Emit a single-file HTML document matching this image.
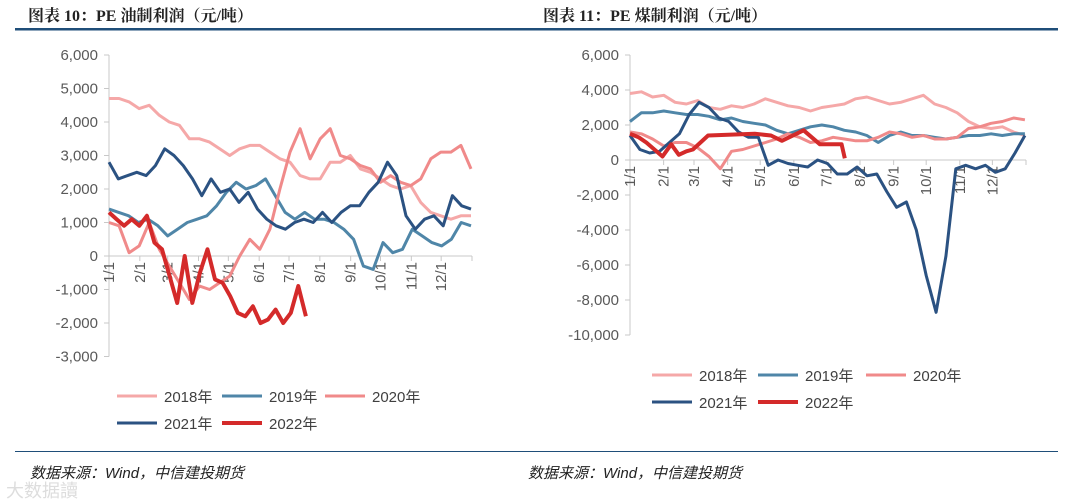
<!DOCTYPE html>
<html><head><meta charset="utf-8">
<style>
body{margin:0;background:#fff;}
svg{display:block;font-family:"Liberation Sans","Noto Sans CJK SC",sans-serif;}
</style></head>
<body>
<svg id="root" width="1080" height="502" viewBox="0 0 1080 502" xmlns="http://www.w3.org/2000/svg">
  <text x="28" y="21" font-size="16" font-weight="bold" fill="#222" font-family="'Liberation Serif','Noto Serif CJK SC',serif">图表 10：PE 油制利润（元/吨）</text>
  <text x="543" y="21" font-size="16" font-weight="bold" fill="#222" font-family="'Liberation Serif','Noto Serif CJK SC',serif">图表 11：PE 煤制利润（元/吨）</text>
  <rect x="15" y="28" width="1043" height="2.5" fill="#1f4e79"/>
  <rect x="15" y="451" width="1043" height="1" fill="#1f4e79"/>
  <text x="30" y="478" font-size="15" font-style="italic" fill="#222">数据来源：Wind，中信建投期货</text>
  <text x="528" y="478" font-size="15" font-style="italic" fill="#222">数据来源：Wind，中信建投期货</text>
  <text x="6" y="497" font-size="18" fill="#ddd">大数据讀</text>
  <g id="left"></g>
  <g id="right"></g>
</svg>
<script>
// ---- left chart data (values in yuan/ton) ----
const monthLabels = ["1/1","2/1","3/1","4/1","5/1","6/1","7/1","8/1","9/1","10/1","11/1","12/1"];
const yearNames = ["2018年","2019年","2020年","2021年","2022年"];
const leftTicks = [6000,5000,4000,3000,2000,1000,0,-1000,-2000,-3000];
const leftTickLabels = ["6,000","5,000","4,000","3,000","2,000","1,000","0","-1,000","-2,000","-3,000"];
const left2018 = [4700,4700,4600,4400,4500,4200,4000,3900,3500,3500,3400,3200,3000,3200,3300,3300,3100,2900,2800,2400,2300,2300,2800,2800,3000,2600,2500,2300,2100,2000,2100,1600,1300,1200,1100,1200,1200];
const left2019 = [1400,1300,1200,1000,1100,900,600,800,1000,1100,1200,1500,1900,2200,2000,2100,2300,1800,1300,1100,1300,1100,1100,1000,800,500,-300,-400,400,100,200,800,600,400,300,500,1000,900];
const left2020 = [1000,900,100,300,1000,200,-300,-800,-1300,-900,-1000,-800,-600,0,500,200,800,2000,3100,3800,2900,3500,3800,3000,2900,2700,2600,2200,2400,2200,2100,2300,2900,3100,3100,3300,2600];
const left2021 = [2800,2300,2400,2500,2400,2700,3200,3000,2700,2300,1800,2300,1900,2000,1600,1900,1400,1100,900,800,1000,1100,1000,1300,1000,1300,1500,1500,1900,2200,2800,2400,1200,800,1100,1200,900,1800,1500,1400];
const left2022 = [1300,1100,900,1100,900,1200,400,200,-600,-1400,0,-1400,-500,200,-700,-800,-1200,-1700,-1800,-1500,-2000,-1900,-1600,-2000,-1700,-900,-1800];
const left2022End = 198;
// ---- right chart data ----
const rightTicks = [6000,4000,2000,0,-2000,-4000,-6000,-8000,-10000];
const rightTickLabels = ["6,000","4,000","2,000","0","-2,000","-4,000","-6,000","-8,000","-10,000"];
const right2018 = [3800,3900,3600,3700,3300,3200,3400,3000,2900,3100,3000,3200,3500,3300,3100,3000,2800,3000,3100,3200,3500,3600,3400,3200,3300,3500,3700,3200,3000,2700,2200,1900,1800,1900,1600,1400];
const right2019 = [2200,2700,2700,2800,2700,2600,2600,2500,2300,2400,2200,2100,2000,1700,1500,1700,1900,2000,1900,1700,1600,1400,1000,1400,1600,1400,1400,1300,1200,1300,1400,1400,1500,1400,1500,1500];
const right2020 = [1600,1500,1200,800,1000,1000,700,200,-500,500,600,800,1000,1200,1500,1300,1000,1100,1300,1200,1100,1100,1300,1600,1500,1300,1400,1200,1200,1300,1800,1900,2100,2200,2400,2300];
const right2021 = [1400,600,400,500,1000,1500,2600,3300,3000,2400,2200,1600,1300,1300,-300,0,-200,-300,-400,0,-200,-800,-800,-400,-900,-800,-1800,-2700,-2400,-4000,-6600,-8700,-5500,-500,-300,-500,-300,-700,-500,400,1400];
const right2022Days = [0,8,15,30,38,45,52,58,65,72,115,130,140,160,175,185,195,198];
const right2022 = [1500,1300,1000,200,900,300,500,600,1000,1400,1500,1400,1100,1700,900,900,900,100];

const colors = ["#f5a8a8","#4f86a8","#f08a8a","#2b5282","#d42a2a"];
const NS = "http://www.w3.org/2000/svg";
function mk(tag, attrs, parent){const e=document.createElementNS(NS,tag);for(const k in attrs)e.setAttribute(k,attrs[k]);parent.appendChild(e);return e;}
function uniformDays(n,end){return Array.from({length:n},(_,i)=>i*end/(n-1));}

function drawChart(g, cfg){
  const x = d => cfg.x0 + d/365*(cfg.x1-cfg.x0);
  const y = v => cfg.yZero - v*cfg.pxPerUnit;
  // axis
  const ax = mk("line",{x1:cfg.x0,x2:cfg.x0,y1:y(cfg.ticks[0]),y2:y(cfg.ticks[cfg.ticks.length-1]),stroke:"#c8c8c8","stroke-width":1},g);
  
  
  cfg.ticks.forEach((t,i)=>{
    const tk = mk("line",{x1:cfg.x0-5,x2:cfg.x0,y1:y(t),y2:y(t),stroke:"#c8c8c8"},g);
    
    
    const tl = mk("text",{x:cfg.x0-11,y:y(t)+5,"font-size":15,fill:"#595959","text-anchor":"end"},g);
    tl.textContent = cfg.tickLabels[i];
    
    
  });
  const xa = mk("line",{x1:cfg.x0,x2:cfg.x1,y1:y(0),y2:y(0),stroke:"#c8c8c8"},g);
  
  
  const monthStart=[0,31,59,90,120,151,181,212,243,273,304,334,365];
  monthStart.forEach((d,i)=>{
    const tk = mk("line",{x1:x(d),x2:x(d),y1:y(0),y2:y(0)+5,stroke:"#c8c8c8"},g);
    
    
    if(i<12){
      const tl = mk("text",{x:0,y:0,"font-size":15,fill:"#595959","text-anchor":"end",transform:`translate(${x(d)+5},${y(0)+6}) rotate(-90)`},g);
      tl.textContent = monthLabels[i];
      
      
    }
  });
  cfg.series.forEach((s,si)=>{
    const pts = s.vals.map((v,i)=>x(s.days[i]).toFixed(1)+","+y(v).toFixed(1)).join(" ");
    const pl = mk("polyline",{points:pts,fill:"none",stroke:colors[si],"stroke-width":si===4?4:3,"stroke-linejoin":"round"},g);
    
    
  });
  cfg.legendPos.forEach((p,si)=>{
    const ll = mk("line",{x1:p[0],x2:p[0]+40,y1:p[1],y2:p[1],stroke:colors[si],"stroke-width":si===4?4:3},g);
    
    
    const lt = mk("text",{x:p[0]+47,y:p[1]+6,"font-size":15,fill:"#404040"},g);
    lt.textContent = yearNames[si];
    
    
  });
}

drawChart(document.getElementById("left"),{
  prefix:"left", x0:109, x1:472, yZero:256, pxPerUnit:33.5/1000,
  ticks:leftTicks, tickLabels:leftTickLabels,
  series:[
    {vals:left2018,days:uniformDays(left2018.length,364)},
    {vals:left2019,days:uniformDays(left2019.length,364)},
    {vals:left2020,days:uniformDays(left2020.length,364)},
    {vals:left2021,days:uniformDays(left2021.length,364)},
    {vals:left2022,days:uniformDays(left2022.length,left2022End)}
  ],
  legendPos:[[117,396],[222,396],[325,396],[117,423],[222,423]]
});
drawChart(document.getElementById("right"),{
  prefix:"right", x0:630, x1:1026, yZero:160, pxPerUnit:35/2000,
  ticks:rightTicks, tickLabels:rightTickLabels,
  series:[
    {vals:right2018,days:uniformDays(right2018.length,364)},
    {vals:right2019,days:uniformDays(right2019.length,364)},
    {vals:right2020,days:uniformDays(right2020.length,364)},
    {vals:right2021,days:uniformDays(right2021.length,364)},
    {vals:right2022,days:right2022Days}
  ],
  legendPos:[[652,375],[758,375],[866,375],[652,402],[758,402]]
});
</script>
</body></html>
